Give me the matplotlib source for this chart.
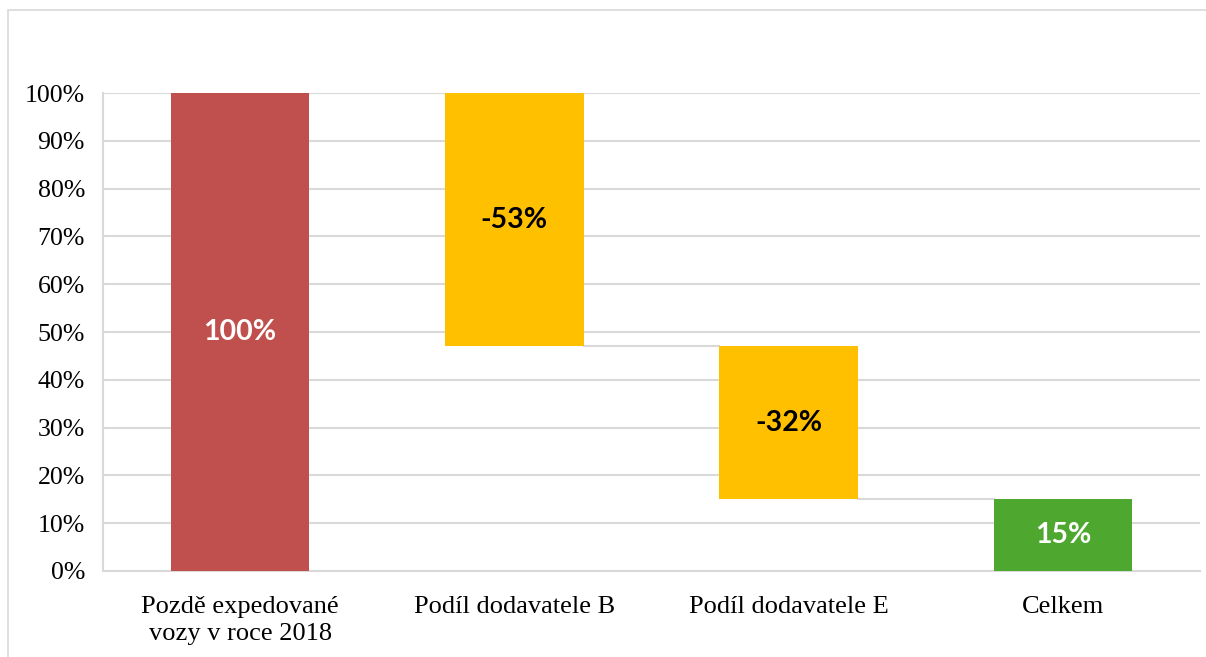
import matplotlib
matplotlib.use('Agg')
import matplotlib.pyplot as plt
from matplotlib.patches import Rectangle
import numpy as np

# data
categories = ['Pozdě expedované\nvozy v roce 2018', 'Podíl dodavatele B',
              'Podíl dodavatele E', 'Celkem']
values = [100, -53, -32, 15]
is_total = [True, False, False, True]
colors = ['#C0504D', '#FFC000', '#FFC000', '#4EA72E']
label_colors = ['white', 'black', 'black', 'white']
yticks = [0, 10, 20, 30, 40, 50, 60, 70, 80, 90, 100]

# spočítat spodky a výšky sloupců
bottoms = []
heights = []
levels = []  # úroveň po každém sloupci
running = 0
for v, tot in zip(values, is_total):
    if tot:
        bottoms.append(0)
        heights.append(v)
        running = v
    else:
        new = running + v
        bottoms.append(min(running, new))
        heights.append(abs(v))
        running = new
    levels.append(running)

fig = plt.figure(figsize=(12.06, 6.57), dpi=100)
ax = fig.add_axes([0.0854, 0.1309, 0.9096, 0.7275])

x = np.arange(len(categories))
width = 0.505
ax.bar(x, heights, bottom=bottoms, width=width, color=colors, zorder=3)

# spojovací čáry
grid_col = '#D9D9D9'
for i in range(len(categories) - 1):
    ax.plot([x[i] + width / 2, x[i + 1] - width / 2], [levels[i], levels[i]],
            color=grid_col, lw=1.5, zorder=2)

# popisky v sloupcích
for i, v in enumerate(values):
    ax.text(x[i], bottoms[i] + heights[i] / 2, f'{v}%', ha='center', va='center',
            color=label_colors[i], fontsize=20.5, fontweight='bold', family='Lato',
            zorder=4)

ax.set_xlim(-0.5, len(categories) - 0.5)
ax.set_ylim(0, 100)
ax.set_yticks(yticks)
ax.set_yticklabels([f'{t}%' for t in yticks])
ax.set_xticks(x)
ax.set_xticklabels(categories, linespacing=1.32)
for lab in ax.get_yticklabels():
    lab.set_family('Liberation Serif')
    lab.set_fontsize(18.6)
for lab in ax.get_xticklabels():
    lab.set_family('Liberation Serif')
    lab.set_fontsize(19)
ax.tick_params(axis='both', length=0, colors='black')
ax.tick_params(axis='y', pad=13)
ax.tick_params(axis='x', pad=18)

ax.yaxis.grid(True, color=grid_col, lw=1.5, zorder=0)
ax.set_axisbelow(True)
for s in ['top', 'right']:
    ax.spines[s].set_visible(False)
ax.spines['left'].set_color(grid_col)
ax.spines['left'].set_linewidth(1.5)
ax.spines['bottom'].set_color(grid_col)
ax.spines['bottom'].set_linewidth(1.5)

# rámeček kolem grafu (vpravo a dole mimo obrázek)
fig.patches.append(Rectangle((8 / 1206, -10 / 657), 1220 / 1206, 657 / 657,
                             transform=fig.transFigure, fill=False,
                             edgecolor='#D9D9D9', lw=1.2))

plt.savefig('out.png', dpi=100)
